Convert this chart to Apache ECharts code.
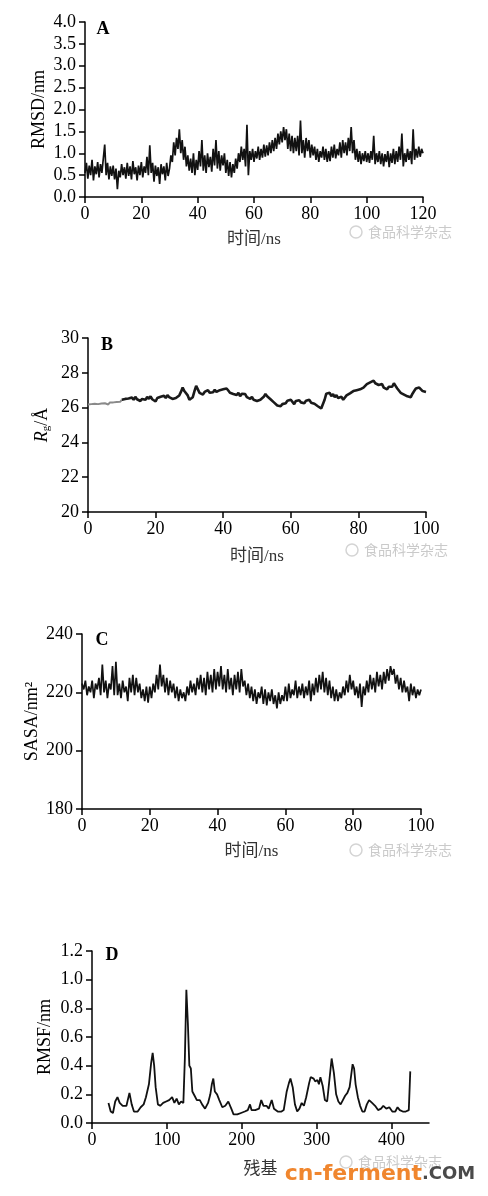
<!DOCTYPE html>
<html>
<head>
<meta charset="utf-8">
<script src="https://cdn.jsdelivr.net/npm/echarts@6/dist/echarts.min.js"></script>
<style>
html,body{margin:0;padding:0;background:#fff;}
#chart{width:488px;height:1196px;}
</style>
</head>
<body>
<div id="chart"></div>
<script>
// ---------- DATA ----------
// Panel A: RMSD (nm), sampled every 0.5 ns from 0 to 120 ns
const rmsdStep = 0.5;
const rmsd = [
0.55,0.78,0.42,0.72,0.50,0.85,0.38,0.70,0.52,0.80,
0.45,0.75,0.55,0.88,1.20,0.50,0.78,0.40,0.70,0.48,
0.72,0.40,0.65,0.18,0.60,0.45,0.75,0.50,0.68,0.42,
0.78,0.48,0.70,0.40,0.82,0.52,0.68,0.38,0.72,0.50,
0.80,0.45,0.70,0.55,0.92,0.50,1.18,0.55,0.78,0.35,
0.72,0.48,0.68,0.30,0.75,0.52,0.70,0.38,0.78,0.48,
0.65,0.95,0.80,1.25,0.95,1.35,1.10,1.55,1.00,1.30,
0.85,1.15,0.70,0.95,0.60,0.88,0.55,1.00,0.50,0.85,
0.62,1.05,0.70,1.30,0.60,0.95,0.55,1.00,0.68,0.92,
0.58,1.10,0.72,1.30,0.65,1.05,0.60,0.95,0.72,1.00,
0.55,0.85,0.48,0.80,0.45,0.75,0.55,0.88,0.65,1.00,
0.80,1.15,0.85,1.10,0.70,1.65,0.50,1.05,0.85,1.10,
0.80,1.05,0.88,1.15,0.85,1.10,0.90,1.20,0.92,1.18,
0.95,1.25,1.00,1.30,1.05,1.35,1.10,1.45,1.20,1.50,
1.25,1.60,1.30,1.55,1.10,1.45,1.05,1.40,1.00,1.35,
1.05,1.40,0.95,1.75,1.00,1.30,0.90,1.35,1.05,1.30,
0.90,1.20,0.95,1.15,0.85,1.10,0.80,1.05,0.90,1.15,
0.85,1.10,0.80,1.05,0.82,1.15,0.90,1.20,0.88,1.10,
0.95,1.25,0.90,1.30,1.00,1.25,0.95,1.35,1.05,1.60,
1.00,1.30,0.85,1.10,0.80,1.05,0.75,1.00,0.82,1.05,
0.80,1.00,0.78,1.05,0.85,1.40,0.75,1.00,0.80,1.05,
0.75,1.00,0.70,0.98,0.80,1.05,0.68,1.00,0.78,1.10,
0.75,1.05,0.80,1.15,0.85,1.45,0.70,1.00,0.80,1.10,
0.85,1.05,0.75,1.55,0.85,1.10,0.90,1.15,0.92,1.10,
1.00
];

// Panel B: radius of gyration (Å), every 0.5 ns from 0 to 100 ns
const rgStep = 0.5;
const rgGrayEndIndex = 20; // first 10 ns drawn in grey
const rg = [
26.18,26.22,26.20,26.25,26.22,26.24,26.20,26.26,26.24,26.27,
26.25,26.28,26.18,26.30,26.27,26.30,26.28,26.32,26.30,26.33,
26.45,26.35,26.50,26.40,26.52,26.42,26.58,26.45,26.62,26.48,
26.55,26.38,26.50,26.60,26.45,26.62,26.50,26.65,26.48,26.58,
26.35,26.55,26.48,26.62,26.52,26.68,26.55,26.72,26.60,26.65,
26.50,26.42,26.55,26.48,26.70,26.90,27.15,26.95,27.05,26.70,
26.45,26.38,26.60,26.95,27.25,27.05,26.85,26.95,26.75,26.90,
26.80,27.00,26.85,26.95,26.88,27.02,26.90,26.85,27.00,26.90,
27.05,27.15,27.10,26.98,26.85,26.92,26.78,26.88,26.72,26.85,
26.65,26.80,26.70,26.78,26.60,26.68,26.50,26.62,26.45,26.55,
26.38,26.30,26.45,26.55,26.62,26.78,26.65,26.55,26.48,26.38,
26.30,26.22,26.12,26.18,26.08,26.20,26.30,26.25,26.40,26.30,
26.45,26.35,26.20,26.38,26.28,26.42,26.30,26.38,26.25,26.40,
26.32,26.45,26.28,26.38,26.22,26.15,26.08,26.02,25.95,26.05,
26.45,26.80,26.70,26.85,26.65,26.78,26.60,26.72,26.55,26.48,
26.62,26.45,26.55,26.70,26.65,26.82,26.75,26.95,26.85,27.00,
26.95,27.05,26.98,27.15,27.10,27.35,27.25,27.45,27.35,27.55,
27.40,27.50,27.30,27.20,27.35,27.15,27.25,27.05,27.20,27.30,
27.20,27.40,27.25,27.10,27.00,26.85,26.95,26.75,26.85,26.65,
26.70,26.60,26.80,26.95,27.10,27.00,27.15,27.05,26.95,27.00,
26.90
];

// Panel C: SASA (nm^2), every 0.5 ns from 0 to 100 ns
const sasaStep = 0.5;
const sasa = [
223,221,224,219,222,220,224,218,223,221,
225,219,229.5,220,224,218,223,221,229,219,
230.5,219,223,218,224,220,222,217,225,220,
226,219,225,220,223,218,221,217,222,216.5,
222,218,223,220,226,221,229.5,222,226,220,
225,219,224,220,223,218,222,217,221,218,
220,217,222,219,224,220,223,219,225,221,
226,220,225,219,227,221,226,220,228,221,
227,222,229,221,226,220,228,221,225,219,
226,221,227,220,228,222,224,219,223,218,
222,217,221,216,220,218,222,216,221,215.5,
220,217,221,216,219,214.5,220,216,219,217,
222,217,223,218,221,219,224,218,222,219,
223,218,222,219,224,217,223,219,225,220,
226,221,227,220,225,219,224,218,222,217,
221,217,220,218,222,219,224,220,226,221,
224,219,222,218,223,215,222,219,224,220,
226,221,225,220,227,222,226,221,227,223,
228,224,229,226,228,223,226,221,225,220,
224,220,222,217,223,219,222,218,221,219,
221
];

// Panel D: RMSF (nm) per residue
const rmsfResidue = [22,25,28,31,34,37,41,46,50,53,56,61,65,69,72,76,79,81,83,85,88,91,95,99,103,107,110,113,116,119,122,124,126,128,130,132,134,137,140,144,147,151,155,158,160,162,164,167,170,174,178,182,186,189,194,199,204,208,211,213,218,223,226,229,233,236,240,243,248,253,256,260,263,265,268,271,274,277,280,283,286,290,292,296,298,301,303,305,308,311,314,317,320,323,326,329,332,335,338,341,344,346,348,350,352,355,358,361,364,367,370,374,378,382,386,389,393,397,401,405,408,411,415,419,423,425];
const rmsfValue = [0.14,0.08,0.07,0.15,0.18,0.14,0.12,0.12,0.21,0.13,0.08,0.08,0.11,0.13,0.18,0.27,0.42,0.49,0.40,0.25,0.13,0.12,0.14,0.15,0.16,0.18,0.14,0.17,0.13,0.15,0.14,0.45,0.93,0.70,0.40,0.38,0.22,0.19,0.16,0.16,0.13,0.10,0.14,0.20,0.27,0.31,0.22,0.20,0.16,0.11,0.12,0.15,0.10,0.06,0.06,0.07,0.08,0.09,0.13,0.09,0.09,0.10,0.16,0.12,0.12,0.10,0.16,0.10,0.08,0.08,0.09,0.22,0.28,0.31,0.25,0.13,0.08,0.10,0.14,0.12,0.18,0.28,0.32,0.31,0.29,0.30,0.27,0.32,0.26,0.16,0.15,0.30,0.45,0.35,0.20,0.15,0.13,0.16,0.19,0.21,0.25,0.33,0.41,0.38,0.27,0.18,0.12,0.08,0.08,0.13,0.16,0.14,0.12,0.09,0.10,0.12,0.10,0.11,0.08,0.08,0.11,0.09,0.08,0.08,0.09,0.36];

// Axis labels / titles
const panelLetters = ['A','B','C','D'];
const xTitles = ['时间/ns','时间/ns','时间/ns','残基'];
const yTitles = ['RMSD/nm','{i|R}{s|g}{n|/Å}','SASA/nm²','RMSF/nm'];
const rmsfTicks = [0,100,200,300,400];
const watermark = '食品科学杂志';

// ---------- CHART ----------
const serif = '"Liberation Serif", "Times New Roman", "Noto Sans CJK SC", serif';
const ink = '#000';
const chart = echarts.init(document.getElementById('chart'), null, {renderer:'canvas'});

const grids = [
  {left:85, top:22, width:338, height:175},
  {left:88, top:338, width:338, height:174},
  {left:82, top:634, width:339, height:175},
  {left:92, top:951, width:337, height:172}
];

function xAxisBase(i, min, max, interval, gap){
  return {
    type:'value', gridIndex:i, min:min, max:max, interval:interval,
    name:xTitles[i], nameLocation:'middle', nameGap:gap,
    nameTextStyle:{fontFamily:serif, fontSize:17, color:'#333'},
    axisLine:{show:true, onZero:false, lineStyle:{color:ink, width:1.5}},
    axisTick:{show:true, length:6, lineStyle:{color:ink, width:1.5}},
    axisLabel:{fontFamily:serif, fontSize:18, color:ink, margin:8},
    splitLine:{show:false}
  };
}
function yAxisBase(i, min, max, interval, gap, fmt){
  return {
    type:'value', gridIndex:i, min:min, max:max, interval:interval,
    name:yTitles[i], nameLocation:'middle', nameGap:gap, nameMoveOverlap:false,
    nameTextStyle:{fontFamily:serif, fontSize:18, color:ink,
      rich:{
        i:{fontFamily:serif, fontSize:18, fontStyle:'italic', color:ink},
        s:{fontFamily:serif, fontSize:11, color:ink, padding:[8,0,0,0]},
        n:{fontFamily:serif, fontSize:18, color:ink}
      }},
    axisLine:{show:true, onZero:false, lineStyle:{color:ink, width:1.5}},
    axisTick:{show:true, length:6, lineStyle:{color:ink, width:1.5}},
    axisLabel:{fontFamily:serif, fontSize:18, color:ink, margin:9, formatter:fmt},
    splitLine:{show:false}
  };
}
const f1 = v => v.toFixed(1);
const f0 = v => String(v);

const xAxes = [
  xAxisBase(0,0,120,20,34),
  xAxisBase(1,0,100,20,36),
  xAxisBase(2,0,100,20,34),
  xAxisBase(3,0,450,100,38)
];
xAxes[3].axisTick.customValues = rmsfTicks;
xAxes[3].axisLabel.customValues = rmsfTicks;

const yAxes = [
  yAxisBase(0,0,4,0.5,37,f1),
  yAxisBase(1,20,30,2,36,f0),
  yAxisBase(2,180,240,20,41,f0),
  yAxisBase(3,0,1.2,0.2,38,f1)
];

const toXY = (arr, step) => arr.map((v,i)=>[i*step, v]);
const rgXY = toXY(rg, rgStep);

const lineBase = {type:'line', showSymbol:false, symbol:'none', animation:false, silent:true};

const series = [
  Object.assign({}, lineBase, {xAxisIndex:0, yAxisIndex:0, data:toXY(rmsd, rmsdStep), lineStyle:{color:'#111', width:1.7}}),
  Object.assign({}, lineBase, {xAxisIndex:1, yAxisIndex:1, data:rgXY.slice(0, rgGrayEndIndex+1), lineStyle:{color:'#8a8a8a', width:2}}),
  Object.assign({}, lineBase, {xAxisIndex:1, yAxisIndex:1, data:rgXY.slice(rgGrayEndIndex), lineStyle:{color:'#1a1a1a', width:2.6}}),
  Object.assign({}, lineBase, {xAxisIndex:2, yAxisIndex:2, data:toXY(sasa, sasaStep), lineStyle:{color:'#111', width:1.7}}),
  Object.assign({}, lineBase, {xAxisIndex:3, yAxisIndex:3, data:rmsfResidue.map((r,i)=>[r, rmsfValue[i]]), lineStyle:{color:'#111', width:1.8}})
];

const letterPos = [[103,29],[107,345],[102,640],[112,955]];
const wmPos = [[356,232],[352,550],[356,850],[346,1162]];
const graphic = [];
letterPos.forEach((p,i)=>{
  graphic.push({type:'text', x:p[0], y:p[1], silent:true,
    style:{text:panelLetters[i], font:'bold 18px ' + serif, fill:ink, align:'center', verticalAlign:'middle'}});
});
wmPos.forEach(p=>{
  graphic.push({type:'circle', x:p[0], y:p[1], silent:true, shape:{r:6},
    style:{fill:'none', stroke:'#d4d4d4', lineWidth:1.5}});
  graphic.push({type:'text', x:p[0]+12, y:p[1], silent:true,
    style:{text:watermark, font:'14px "Noto Sans CJK SC"', fill:'#cacaca', align:'left', verticalAlign:'middle'}});
});
graphic.push({type:'text', x:422, y:1174, silent:true,
  style:{text:'cn-ferment', font:'bold 22px "DejaVu Sans"', fill:'#f0862e', align:'right', verticalAlign:'middle'}});
graphic.push({type:'text', x:422, y:1174, silent:true,
  style:{text:'.COM', font:'bold 18px "DejaVu Sans"', fill:'#4a4a4a', align:'left', verticalAlign:'middle'}});

chart.setOption({
  backgroundColor:'#fff',
  animation:false,
  grid:grids,
  xAxis:xAxes,
  yAxis:yAxes,
  series:series,
  graphic:graphic
});
</script>
</body>
</html>
